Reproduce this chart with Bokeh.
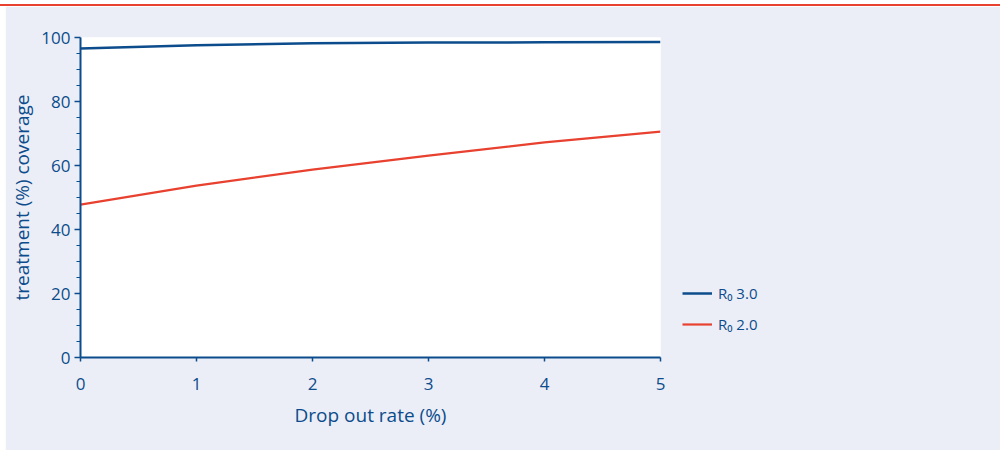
from bokeh.plotting import figure
from bokeh.models import Legend, LegendItem, Div, FixedTicker
from bokeh.layouts import column, row
from bokeh.embed import file_html
from bokeh.resources import INLINE

drop_out = [0, 1, 2, 3, 4, 5]
r0_3 = [96.6, 97.6, 98.2, 98.4, 98.5, 98.6]
r0_2 = [47.8, 53.7, 58.7, 63.1, 67.2, 70.6]
series_names = ["R\u2080 3.0", "R\u2080 2.0"]
x_label = "Drop out rate (%)"
y_label = "treatment (%) coverage"

BLUE = "#0C4C8C"
RED = "#E8412F"
PANEL = "#EBEEF6"
FONT = "Open Sans"

p = figure(frame_width=580, frame_height=320, output_backend="svg", toolbar_location=None,
           x_range=(0, 5), y_range=(0, 100),
           min_border_left=75, min_border_right=0, min_border_top=31, min_border_bottom=93)
p.border_fill_color = PANEL
p.background_fill_color = "white"
p.outline_line_color = None
p.grid.visible = False

l3 = p.line(drop_out, r0_3, line_color=BLUE, line_width=2.5)
l2 = p.line(drop_out, r0_2, line_color=RED, line_width=2.2)

for ax in (p.xaxis[0], p.yaxis[0]):
    ax.axis_line_color = BLUE
    ax.axis_line_width = 2
    ax.major_tick_line_color = BLUE
    ax.minor_tick_line_color = BLUE
    ax.major_tick_line_width = 1.5
    ax.minor_tick_line_width = 1.2
    ax.major_label_text_color = BLUE
    ax.major_label_text_font = FONT
    ax.major_label_text_font_size = "17px"
    ax.axis_label_text_color = BLUE
    ax.axis_label_text_font = FONT
    ax.axis_label_text_font_size = "19px"
    ax.axis_label_text_font_style = "normal"
    ax.major_tick_in = 0

p.xaxis.ticker = FixedTicker(ticks=drop_out)
p.xaxis.major_tick_out = 4
p.xaxis.minor_tick_out = 0
p.xaxis.major_label_standoff = 16
p.xaxis.axis_label = x_label
p.xaxis.axis_label_standoff = 9

p.yaxis.ticker = FixedTicker(ticks=[0, 20, 40, 60, 80, 100],
                             minor_ticks=[5, 10, 15, 25, 30, 35, 45, 50, 55, 65, 70, 75, 85, 90, 95])
p.yaxis.major_tick_out = 6
p.yaxis.minor_tick_out = 4
p.yaxis.minor_tick_in = 0
p.yaxis.major_label_standoff = 4
p.yaxis.axis_label = y_label
p.yaxis.axis_label_standoff = 3

legend = Legend(items=[LegendItem(label=series_names[0], renderers=[l3]),
                       LegendItem(label=series_names[1], renderers=[l2])],
                location=(22, 23), padding=0, margin=0, spacing=11,
                glyph_width=30, glyph_height=20, label_height=20, label_standoff=6,
                label_text_font=FONT, label_text_font_size="15px", label_text_color=BLUE,
                background_fill_alpha=0, border_line_color=None)
p.add_layout(legend, "right")

top_space = Div(text="", width=1000, height=4, styles={"margin": "0"})
bar = Div(text="", width=1000, height=2, styles={"background-color": RED, "margin": "0"})
left_space = Div(text="", width=5, height=444, styles={"margin": "0"})
layout = column(top_space, bar, row(left_space, p, spacing=0), spacing=0)

open("out.html", "w").write(file_html(layout, INLINE))
